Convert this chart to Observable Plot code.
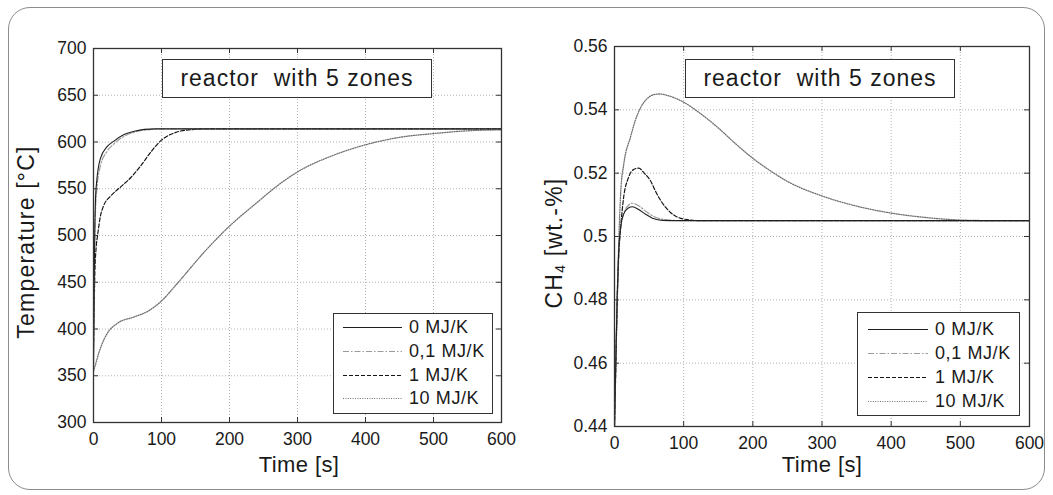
<!DOCTYPE html>
<html><head><meta charset="utf-8">
<script src="https://cdn.jsdelivr.net/npm/d3@7"></script>
<script src="https://cdn.jsdelivr.net/npm/@observablehq/plot@0.6"></script>
<style>
body{margin:0;background:#fff;font-family:"Liberation Sans",Arial,sans-serif;color:#1a1a1a;}
#wrap{position:relative;width:1053px;height:495px;overflow:hidden;background:#fff;}
#frame{position:absolute;left:8px;top:7px;width:1037px;height:483px;border:1.5px solid #8c8c8c;border-radius:22px;box-sizing:border-box;}
.plot{position:absolute;top:0;}
.ann{position:absolute;border:1.5px solid #333;background:#fff;box-sizing:border-box;display:flex;align-items:center;justify-content:center;font-size:23px;white-space:pre;letter-spacing:1px;}
.legend{position:absolute;border:1.5px solid #333;background:#fff;box-sizing:border-box;}
.legend .row{position:absolute;left:0;height:20px;width:100%;}
.legend svg{position:absolute;top:0;left:0;}
.legend span{position:absolute;top:0;line-height:20px;font-size:18px;letter-spacing:0.6px;white-space:nowrap;}
.xlab{position:absolute;font-size:22px;letter-spacing:0.4px;white-space:pre;transform:translateX(-50%);}
.ylab{position:absolute;font-size:23px;letter-spacing:1.2px;white-space:pre;transform:translate(-50%,-50%) rotate(-90deg);}
</style></head>
<body><div id="wrap"><div id="frame"></div></div>
<script>
// ---------- data ----------
const seriesNames = ["0 MJ/K", "0,1 MJ/K", "1 MJ/K", "10 MJ/K"];
const xTicks = [0, 100, 200, 300, 400, 500, 600];
const tempTicks = [300, 350, 400, 450, 500, 550, 600, 650, 700];
const ch4Ticks = [0.44, 0.46, 0.48, 0.5, 0.52, 0.54, 0.56];
const annotationText = "reactor  with 5 zones";
const xTitle = "Time [s]";
const tempTitle = "Temperature [°C]";

// Temperature [°C] vs time [s]
const temp0 = [[0,360],[1,450],[2,510],[3,540],[5,560],[10,582],[20,595],[30,601],[45,608],[60,611.5],[75,613.5],[90,614],[600,614]];
const temp01 = [[0,360],[1,440],[2,500],[3,528],[5,550],[10,574],[20,590],[30,598],[45,606],[60,610.5],[80,613],[100,614],[600,614]];
const temp1 = [[0,380],[2,460],[4,488],[6,500],[10,520],[15,532],[25,542],[40,552],[55,562],[70,575],[85,590],[100,602],[120,610],[140,613],[170,614],[600,614]];
const temp10 = [[0,355],[3,362],[6,370],[12,383],[20,395],[35,406],[60,413],[80,419],[100,430],[120,446],[140,463],[160,480],[200,510],[240,535],[270,553],[300,568],[350,585],[400,597],[450,605],[500,609],[550,612],[600,613]];

// CH4 [wt.-%] vs time [s]
const ch4_0 = [[0,0.44],[2,0.462],[4,0.482],[6,0.495],[9,0.503],[13,0.507],[20,0.509],[26,0.5094],[35,0.5085],[45,0.507],[55,0.5058],[70,0.5051],[90,0.505],[600,0.505]];
const ch4_01 = [[0,0.44],[2,0.462],[4,0.482],[6,0.495],[9,0.503],[13,0.507],[20,0.5098],[26,0.5105],[35,0.5097],[45,0.508],[60,0.506],[80,0.5052],[100,0.505],[600,0.505]];
const ch4_1 = [[0,0.44],[2,0.46],[4,0.48],[6,0.493],[9,0.503],[13,0.512],[20,0.5185],[28,0.5212],[35,0.5216],[43,0.52],[52,0.5176],[60,0.514],[67,0.5113],[81,0.5076],[100,0.5055],[124,0.505],[600,0.505]];
const ch4_10 = [[0,0.44],[2,0.46],[4,0.48],[6,0.497],[9,0.514],[13.5,0.523],[23,0.5313],[30,0.5366],[38,0.5408],[47,0.5435],[57,0.5448],[65,0.545],[80,0.5443],[100,0.5424],[125,0.5387],[150,0.5343],[175,0.5293],[200,0.5247],[225,0.5208],[250,0.5174],[300,0.5128],[350,0.5096],[400,0.5074],[450,0.506],[500,0.5052],[550,0.505],[600,0.505]];

// ---------- styles ----------
const lineStyles = [
  {stroke:"#1e1e1e", dash:null, w:1.1},
  {stroke:"#9a9a9a", dash:"6,2,1.5,2", w:1.2},
  {stroke:"#151515", dash:"4,2", w:1.2},
  {stroke:"#707070", dash:"1,1.4", w:1.3}
];

const wrap = document.getElementById("wrap");

function makePlot({series, yDomain, yTicks, yFmt, left, W, ml, mr, mt, mb}) {
  const H = 495;
  const iw = W - ml - mr, ih = H - mt - mb;
  const marks = [
    Plot.gridX(xTicks, {stroke:"#b4b4b4", strokeOpacity:1, strokeDasharray:"1,2"}),
    Plot.gridY(yTicks, {stroke:"#b4b4b4", strokeOpacity:1, strokeDasharray:"1,2"}),
    Plot.tickX(xTicks, {x:d=>d, insetTop: ih - 5, stroke:"#333"}),
    Plot.tickX(xTicks, {x:d=>d, insetBottom: ih - 5, stroke:"#333"}),
    Plot.tickY(yTicks, {y:d=>d, insetRight: iw - 5, stroke:"#333"}),
    Plot.tickY(yTicks, {y:d=>d, insetLeft: iw - 5, stroke:"#333"}),
  ];
  for (const i of [3, 2, 1, 0]) {
    const s = lineStyles[i];
    marks.push(Plot.line(series[i], {x:d=>d[0], y:d=>d[1], stroke:s.stroke, strokeWidth:s.w,
      strokeDasharray:s.dash, curve:"monotone-x", clip:true}));
  }
  marks.push(Plot.frame({stroke:"#333", strokeWidth:1.3}));
  marks.push(Plot.axisX(xTicks, {anchor:"bottom", tickSize:0, tickPadding:10, label:null}));
  marks.push(Plot.axisY(yTicks, {anchor:"left", tickSize:0, tickPadding:7, label:null, tickFormat:yFmt}));
  const svg = Plot.plot({
    width: W, height: H, marginLeft: ml, marginRight: mr, marginTop: mt, marginBottom: mb,
    x: {domain:[0,600]}, y: {domain:yDomain},
    style: {fontSize:"17.5px", fontFamily:'"Liberation Sans", Arial, sans-serif', color:"#1a1a1a", background:"transparent", overflow:"visible"},
    marks
  });
  svg.classList.add("plot");
  svg.style.left = left + "px";
  wrap.appendChild(svg);
}

makePlot({series:[temp0, temp01, temp1, temp10], yDomain:[300,700], yTicks:tempTicks, yFmt:d=>String(d),
  left:0, W:526, ml:93, mr:25, mt:48, mb:73});
makePlot({series:[ch4_0, ch4_01, ch4_1, ch4_10], yDomain:[0.44,0.56], yTicks:ch4Ticks, yFmt:d=>String(+d.toFixed(2)),
  left:527, W:526, ml:87, mr:24, mt:46, mb:69});

function addDiv(cls, css, html) {
  const d = document.createElement("div");
  d.className = cls; Object.assign(d.style, css); d.innerHTML = html; wrap.appendChild(d); return d;
}
// annotations
addDiv("ann", {left:"162px", top:"59px", width:"270px", height:"39px"}, "").textContent = annotationText;
addDiv("ann", {left:"685px", top:"59px", width:"270px", height:"39px"}, "").textContent = annotationText;
// axis titles
addDiv("xlab", {left:"299px", top:"452px"}, "").textContent = xTitle;
addDiv("xlab", {left:"822px", top:"452px"}, "").textContent = xTitle;
addDiv("ylab", {left:"26px", top:"242px"}, "").textContent = tempTitle;
addDiv("ylab", {left:"554px", top:"243px"}, 'CH<sub style="font-size:14px;vertical-align:-3px">4</sub> [wt.-%]');

// legends
function legend(left, top, w, h, rowTops, lx0, lx1, tx) {
  const box = addDiv("legend", {left:left+"px", top:top+"px", width:w+"px", height:h+"px"}, "");
  seriesNames.forEach((name, i) => {
    const s = lineStyles[i];
    const row = document.createElement("div");
    row.className = "row"; row.style.top = (rowTops[i] - 10) + "px";
    const sv = d3.create("svg").attr("width", w).attr("height", 20);
    sv.append("line").attr("x1", lx0).attr("x2", lx1).attr("y1", 10.5).attr("y2", 10.5)
      .attr("stroke", s.stroke).attr("stroke-width", 1).attr("stroke-dasharray", s.dash);
    row.appendChild(sv.node());
    const sp = document.createElement("span"); sp.style.left = tx + "px"; sp.textContent = name;
    row.appendChild(sp);
    box.appendChild(row);
  });
}
legend(333, 313, 160, 101, [13, 37, 61, 84], 9, 68, 75);
legend(857, 312, 163, 104, [16, 40, 64, 88], 10, 70, 77);
</script></body></html>
